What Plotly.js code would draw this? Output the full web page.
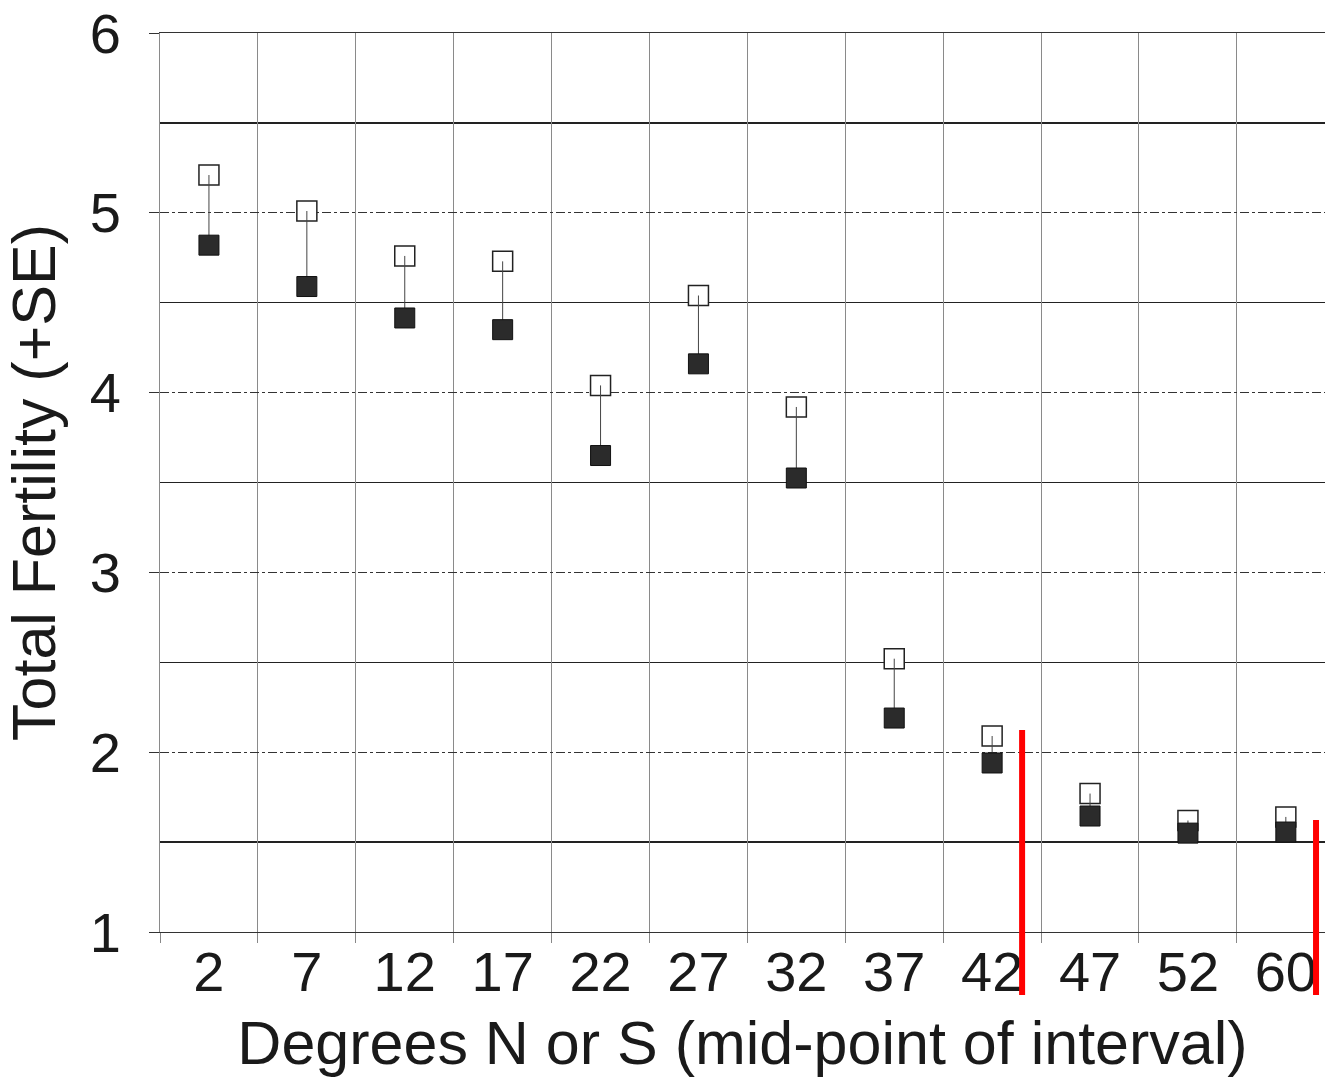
<!DOCTYPE html>
<html>
<head>
<meta charset="utf-8">
<script src="https://cdn.plot.ly/plotly-3.0.1.min.js"></script>
<style>html,body{margin:0;padding:0;overflow:hidden;background:#fff;}</style>
</head>
<body>
<div id="chart" style="width:1325px;height:1083px;"></div>
<script>
const degrees = ["2","7","12","17","22","27","32","37","42","47","52","60"];
const meanFertility = [4.82,4.59,4.415,4.35,3.65,4.16,3.525,2.19,1.94,1.645,1.55,1.556];
const meanPlusSE   = [5.21,5.01,4.76,4.73,4.04,4.54,3.92,2.52,2.09,1.77,1.62,1.64];

const seUp = meanPlusSE.map((v,i)=>v-meanFertility[i]);

const traces = [
  {
    x: degrees, y: meanPlusSE, type: 'scatter', mode: 'markers',
    marker: {symbol: 'square', size: 20, color: '#ffffff', line: {color: '#222', width: 1.5}},
    hoverinfo: 'skip'
  },
  {
    x: degrees, y: meanFertility, type: 'scatter', mode: 'markers',
    marker: {symbol: 'square', size: 20, color: '#2b2b2b', line: {color: '#111', width: 1}},
    error_y: {type: 'data', symmetric: false, array: seUp, arrayminus: seUp.map(()=>0),
              color: '#444', thickness: 1, width: 0}
  }
];

const layout = {
  width: 1325, height: 1083,
  margin: {l: 160, r: 0, t: 33, b: 151},
  paper_bgcolor: '#fff', plot_bgcolor: '#fff',
  showlegend: false,
  font: {family: 'Liberation Sans, Arial, sans-serif', color: '#1a1a1a'},
  xaxis: {
    type: 'category',
    range: [-0.5, 11.4],
    tickson: 'boundaries',
    ticks: 'outside', ticklen: 10, tickcolor: '#888', tickwidth: 1,
    ticklabelstandoff: -10,
    showgrid: true, gridcolor: '#8a8a8a', gridwidth: 1,
    showline: true, mirror: true, linecolor: '#333', linewidth: 1.3,
    zeroline: false,
    tickfont: {size: 56, color: '#1a1a1a'},
    title: {text: 'Degrees N or S (mid-point of interval)', font: {size: 61, color: '#1a1a1a'}, standoff: 19}
  },
  yaxis: {
    range: [1, 6], dtick: 1, tick0: 1,
    ticks: 'outside', ticklen: 10, tickcolor: '#333',
    ticklabelstandoff: 17,
    showgrid: true, gridcolor: '#333', gridwidth: 1.3, griddash: 'dashdot',
    minor: {dtick: 0.5, showgrid: true, gridcolor: '#222', gridwidth: 1.4, griddash: 'solid'},
    zeroline: false, showline: true, linecolor: '#8a8a8a', linewidth: 1,
    tickfont: {size: 56, color: '#1a1a1a'},
    title: {text: 'Total Fertility (+SE)', font: {size: 61, color: '#1a1a1a'}, standoff: 26}
  },
  shapes: [
    {type: 'line', xref: 'paper', yref: 'paper', x0: 0.740, x1: 0.740, y0: -0.070, y1: 0.2247,
     line: {color: '#ff0000', width: 6}},
    {type: 'line', xref: 'paper', yref: 'paper', x0: 0.9923, x1: 0.9923, y0: -0.070, y1: 0.1246,
     line: {color: '#ff0000', width: 6}}
  ]
};

Plotly.newPlot('chart', traces, layout, {displayModeBar: false, staticPlot: true});
</script>
</body>
</html>
